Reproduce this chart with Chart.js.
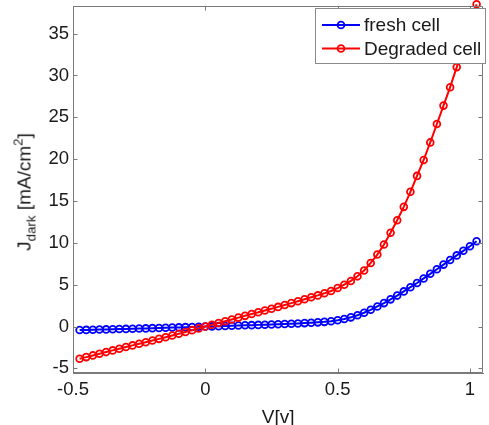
<!DOCTYPE html>
<html><head><meta charset="utf-8">
<script src="https://cdn.jsdelivr.net/npm/chart.js@4.4.1/dist/chart.umd.min.js"></script>
<style>
html,body{margin:0;padding:0;background:#fff;}
#wrap{position:relative;width:489px;height:425px;overflow:hidden;}
#ytitle{position:absolute;left:24px;top:192px;transform:translate(-50%,-50%) rotate(-90deg);font:19px "Liberation Sans",Arial,sans-serif;color:#1a1a1a;white-space:nowrap;line-height:1;}
#ytitle sub{font-size:70%;vertical-align:-0.35em;line-height:0;}
#ytitle sup{font-size:70%;vertical-align:0.6em;line-height:0;}
</style></head>
<body><div id="wrap"><canvas id="c" width="489" height="425"></canvas><div id="ytitle">J<sub>dark</sub> [mA/cm<sup>2</sup>]</div></div>
<script>
const voltage = [-0.475,-0.45,-0.425,-0.4,-0.375,-0.35,-0.325,-0.3,-0.275,-0.25,
  -0.225,-0.2,-0.175,-0.15,-0.125,-0.1,-0.075,-0.05,-0.025,0,
  0.025,0.05,0.075,0.1,0.125,0.15,0.175,0.2,0.225,0.25,
  0.275,0.3,0.325,0.35,0.375,0.4,0.425,0.45,0.475,0.5,
  0.525,0.55,0.575,0.6,0.625,0.65,0.675,0.7,0.725,0.75,
  0.775,0.8,0.825,0.85,0.875,0.9,0.925,0.95,0.975,1.0,
  1.025];
const freshCell = [-0.42,-0.40,-0.38,-0.36,-0.34,-0.32,-0.30,-0.28,-0.26,-0.24,
  -0.22,-0.19,-0.17,-0.15,-0.12,-0.10,-0.07,-0.05,-0.02,0.00,
  0.02,0.05,0.07,0.10,0.12,0.15,0.17,0.20,0.22,0.25,
  0.28,0.31,0.34,0.37,0.41,0.45,0.50,0.56,0.64,0.75,
  0.90,1.10,1.35,1.65,2.00,2.40,2.80,3.25,3.70,4.20,
  4.70,5.20,5.75,6.30,6.85,7.40,7.95,8.50,9.05,9.60,
  10.20];
const degradedCell = [-3.85,-3.65,-3.45,-3.25,-3.05,-2.85,-2.65,-2.45,-2.25,-2.06,
  -1.87,-1.67,-1.47,-1.27,-1.07,-0.86,-0.65,-0.43,-0.22,0.00,
  0.21,0.42,0.63,0.85,1.07,1.28,1.50,1.70,1.92,2.13,
  2.35,2.57,2.80,3.03,3.27,3.50,3.72,3.97,4.25,4.60,
  5.00,5.45,6.00,6.70,7.60,8.60,9.80,11.20,12.70,14.30,
  16.10,18.00,19.90,22.00,24.20,26.40,28.60,31.00,33.50,36.00,
  38.50];
const xTicks = [-0.5, 0, 0.5, 1];
const yTicks = [-5, 0, 5, 10, 15, 20, 25, 30, 35];
const seriesNames = ['fresh cell', 'Degraded cell'];
const seriesColors = ['#0000ff', '#ff0000'];
const xTitle = 'V[v]';

const FONT = '"Liberation Sans", Arial, sans-serif';
const AXIS = '#7a7a7a';
const TEXT = '#1a1a1a';

function mkDataset(i, vals, order) {
  return {
    label: seriesNames[i],
    data: voltage.map((v, k) => ({x: v, y: vals[k]})),
    borderColor: seriesColors[i],
    backgroundColor: 'rgba(0,0,0,0)',
    pointBackgroundColor: 'rgba(0,0,0,0)',
    pointBorderColor: seriesColors[i],
    pointRadius: 3.4,
    pointBorderWidth: 1.8,
    borderWidth: 2,
    tension: 0,
    order: order,
    clip: {left: 0, top: 6, right: 6, bottom: 0}
  };
}

const framePlugin = {
  id: 'frame',
  afterDatasetsDraw(chart) {
    const {ctx, chartArea: a, scales} = chart;
    ctx.save();
    ctx.strokeStyle = AXIS;
    ctx.lineWidth = 1;
    const L = Math.round(a.left) + 0.5, R = Math.round(a.right) - 0.5;
    const T = Math.round(a.top) + 0.5, B = Math.round(a.bottom) - 0.5;
    ctx.beginPath();
    ctx.rect(L, T, R - L, B - T);
    ctx.stroke();
    const tl = 4;
    ctx.beginPath();
    xTicks.forEach(v => {
      const px = Math.round(scales.x.getPixelForValue(v)) + 0.5;
      ctx.moveTo(px, B); ctx.lineTo(px, B - tl);
      ctx.moveTo(px, T); ctx.lineTo(px, T + tl);
    });
    yTicks.forEach(v => {
      const py = Math.round(scales.y.getPixelForValue(v)) + 0.5;
      ctx.moveTo(L, py); ctx.lineTo(L + tl, py);
      ctx.moveTo(R, py); ctx.lineTo(R - tl, py);
    });
    ctx.stroke();

    // legend box (drawn over the data, as in the reference)
    const bx = 315.5, by = 8.5, bw = 170, bh = 55;
    ctx.fillStyle = '#ffffff';
    ctx.fillRect(bx, by, bw, bh);
    ctx.strokeStyle = '#8a8a8a';
    ctx.strokeRect(bx, by, bw, bh);
    const rows = [25, 48.5];
    chart.data.datasets.forEach((ds, i) => {
      const y = rows[i];
      ctx.strokeStyle = ds.borderColor;
      ctx.lineWidth = 2;
      ctx.beginPath(); ctx.moveTo(322, y); ctx.lineTo(360, y); ctx.stroke();
      ctx.lineWidth = 1.8;
      ctx.beginPath(); ctx.arc(341, y, 3.4, 0, Math.PI * 2); ctx.stroke();
      ctx.fillStyle = TEXT;
      ctx.font = '19px ' + FONT;
      ctx.textBaseline = 'middle';
      ctx.textAlign = 'left';
      ctx.fillText(ds.label, 364, y + 1);
    });
    ctx.restore();
  }
};

new Chart(document.getElementById('c'), {
  type: 'line',
  data: { datasets: [mkDataset(0, freshCell, 1), mkDataset(1, degradedCell, 0)] },
  options: {
    responsive: false,
    devicePixelRatio: 1,
    animation: false,
    layout: { padding: { top: 6, right: 2, left: 0, bottom: 0 } },
    plugins: { legend: { display: false }, tooltip: { enabled: false } },
    scales: {
      x: {
        type: 'linear', min: -0.5, max: 1.05,
        afterBuildTicks: s => { s.ticks = xTicks.map(v => ({value: v})); },
        afterFit: s => { s.height = 52; s.paddingLeft = 0; s.paddingRight = 0; },
        grid: { display: false, drawTicks: false },
        border: { display: true, color: AXIS, width: 1 },
        ticks: { color: TEXT, font: { family: FONT, size: 18.5 }, padding: 6, maxRotation: 0, callback: v => String(v) },
        title: { display: true, text: xTitle, color: TEXT, font: { family: FONT, size: 19 }, padding: { top: 0, bottom: -4 } }
      },
      y: {
        type: 'linear', min: -5.55, max: 38.3,
        afterBuildTicks: s => { s.ticks = yTicks.map(v => ({value: v})); },
        afterFit: s => { s.width = 73; s.paddingTop = 0; s.paddingBottom = 0; },
        grid: { display: false, drawTicks: false },
        border: { display: true, color: AXIS, width: 1 },
        ticks: { color: TEXT, font: { family: FONT, size: 18.5 }, padding: 4, callback: v => String(v) },
        title: { display: false }
      }
    }
  },
  plugins: [framePlugin]
});
</script>
</body></html>
